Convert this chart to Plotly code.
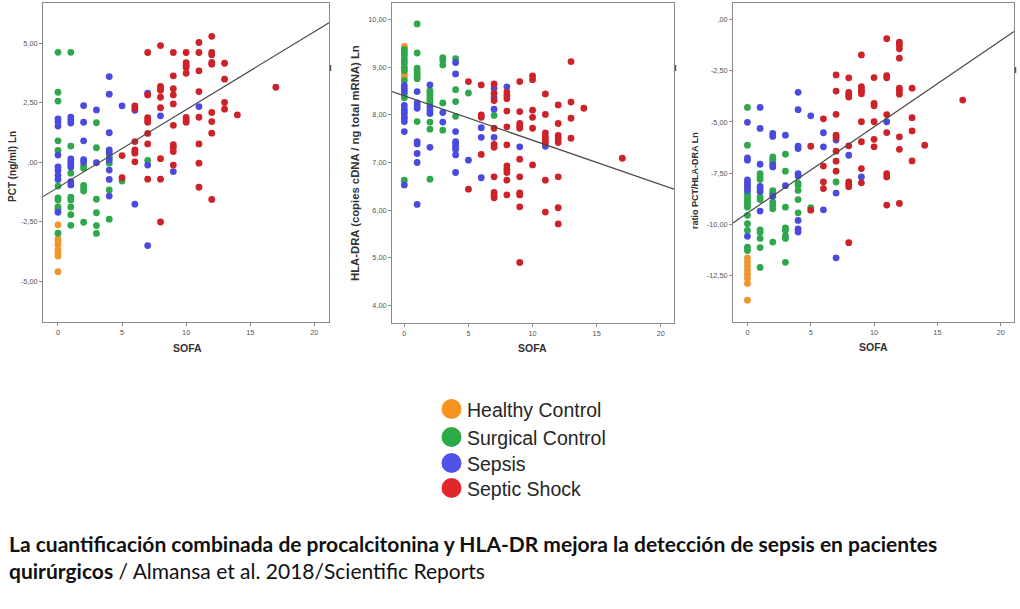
import plotly.graph_objects as go

W, H = 1020, 609

# ---------------- data ----------------
groups = ["Healthy Control", "Surgical Control", "Sepsis", "Septic Shock"]

# Panel 1: PCT (ng/ml) Ln  -- values grouped by SOFA score
pct_healthy = {0: [-2.63, -3.22, -3.33, -3.47, -3.68, -3.82, -3.94, -4.60]}
pct_surgical = {
    0: [4.62, 2.94, 2.57, 0.90, 0.50, -1.00, -1.50, -1.59, -1.88, -1.98, -2.98],
    1: [4.62, 0.68, -0.46, -1.47, -1.58, -1.88, -2.20, -2.65],
    2: [-0.14, -0.25, -0.97, -1.09, -1.21, -2.52],
    3: [1.66, 0.61, -1.55, -2.12, -2.66, -2.99],
    4: [0.27, 0.16, -0.04, -1.16, -2.39],
    5: [-0.79],
    7: [0.08],
}
pct_sepsis = {
    0: [1.82, 1.70, 1.52, 0.30, -0.20, -0.35, -0.55, -0.72, -2.10],
    1: [1.90, 1.78, 1.65, 0.14, 0.03, -0.09, -0.20, -0.81, -0.95],
    2: [2.38, 1.68, 0.90, 0.11, 0.01],
    3: [2.20, -0.02],
    4: [3.60, 2.86, 1.24, 0.52, 0.40, 0.10, -0.33, -0.72, -1.42],
    5: [2.37],
    6: [2.18, 0.45, -1.76],
    7: [2.90, -0.12, -3.50],
    8: [1.95],
    9: [-0.39],
    11: [2.34],
}
pct_shock = {
    5: [0.28, -0.65],
    6: [2.37, 2.27, 0.87, 0.52, 0.38, 0.02],
    7: [4.61, 2.83, 1.87, 1.78, 1.68, 1.21, 0.77, -0.71],
    8: [4.90, 3.19, 3.10, 3.02, 2.73, 2.29, 0.15, -0.71, -2.51],
    9: [4.61, 3.63, 3.09, 2.83, 2.45, 1.55, 0.74, 0.62, 0.45, -0.12],
    10: [4.61, 4.18, 4.07, 3.98, 3.74, 1.88, 1.78, 1.68],
    11: [5.03, 4.61, 3.84, 2.97, 1.89, 0.77, -0.04, -1.05],
    12: [5.29, 4.61, 4.52, 4.19, 4.12, 2.09, 1.71, 1.22, -1.56],
    13: [4.16, 3.49, 2.51, 2.23],
    14: [1.99],
    17: [3.15],
}
pct_fit = {"intercept": -1.06, "slope": 0.327}

# Panel 2: HLA-DRA (copies cDNA / ng total mRNA) Ln
hla_healthy = {0: [9.44, 9.40, 9.22, 9.12, 8.98, 8.90, 8.84, 8.78]}
hla_surgical = {
    0: [9.37, 9.32, 9.27, 9.16, 9.08, 9.00, 8.93, 8.72, 8.43, 8.36, 8.07, 7.96, 6.63],
    1: [9.91, 9.30, 8.98, 8.92, 8.87, 8.81, 8.76, 7.86],
    2: [8.51, 8.46, 8.41, 8.35, 8.30, 8.25, 7.85, 7.70, 6.65],
    3: [9.20, 9.15, 9.05, 8.25, 7.68],
    4: [9.18, 8.53, 8.28, 7.97],
    5: [8.46],
    7: [7.99],
}
hla_sepsis = {
    0: [8.62, 8.55, 8.49, 8.20, 8.12, 8.03, 7.93, 7.86, 7.65, 6.53],
    1: [8.49, 8.25, 8.19, 8.14, 7.44, 7.39, 7.19, 7.00, 6.12],
    2: [8.63, 8.17, 8.10, 8.03, 7.32],
    3: [8.05, 7.85],
    4: [9.10, 8.86, 7.65, 7.44, 7.39, 7.33, 7.28, 7.16, 6.79],
    5: [7.05],
    6: [7.73, 7.53, 6.68],
    7: [8.56, 8.36, 8.12, 7.53],
    8: [8.59],
    9: [7.33],
    11: [7.34],
}
hla_shock = {
    5: [8.70, 6.44],
    6: [8.63, 8.00, 7.95, 7.17],
    7: [8.65, 8.45, 8.30, 7.72, 7.38, 7.32, 6.70, 6.37, 6.31, 6.26],
    8: [8.48, 8.41, 8.34, 8.08, 7.75, 7.37, 6.93, 6.86, 6.79, 6.63, 6.32],
    9: [8.70, 8.07, 7.82, 7.77, 7.72, 7.07, 6.70, 6.36, 6.32, 6.07, 4.90],
    10: [8.82, 8.74, 8.10, 7.95, 7.72, 6.95],
    11: [8.44, 8.01, 7.62, 7.54, 7.47, 7.41, 6.63, 5.96],
    12: [8.21, 7.82, 7.57, 7.50, 7.42, 6.70, 6.05, 5.71],
    13: [9.12, 8.27, 7.93, 7.51],
    14: [8.14],
    17: [7.09],
}
hla_fit = {"intercept": 8.40, "slope": -0.0932}

# Panel 3: ratio PCT/HLA-DRA Ln
ratio_healthy = {0: [-11.65, -11.85, -12.05, -12.25, -12.45, -12.65, -12.90, -13.72]}
ratio_surgical = {
    0: [-4.29, -6.14, -8.50, -8.63, -8.77, -8.90, -9.03, -9.17, -9.57, -9.98, -10.31, -11.13, -11.29],
    1: [-7.53, -7.67, -7.82, -8.67, -8.80, -10.28, -10.40, -10.70, -11.15, -12.12],
    2: [-6.71, -6.83, -6.95, -8.36, -8.50, -8.92, -9.08, -9.25, -10.88],
    3: [-6.58, -7.41, -9.17, -10.18, -10.30, -10.58, -10.70, -11.87],
    4: [-8.00, -8.10, -8.35, -8.80, -9.45],
    5: [-9.20],
    7: [-7.94],
}
ratio_sepsis = {
    0: [-5.02, -6.76, -6.87, -7.84, -7.97, -8.10, -8.22, -8.35, -10.60],
    1: [-4.29, -5.32, -7.07, -8.15, -8.27, -8.40, -9.36],
    2: [-5.56, -5.71, -7.10, -7.20, -8.64],
    3: [-5.65, -8.12],
    4: [-3.55, -4.40, -6.18, -6.30, -7.53, -7.65, -9.82, -10.24, -10.39],
    5: [-4.70],
    6: [-5.53, -6.22, -9.30],
    7: [-5.89, -8.48, -11.65],
    8: [-6.63],
    9: [-7.69],
    11: [-4.99],
}
ratio_shock = {
    5: [-6.19, -9.32],
    6: [-4.85, -7.16, -7.94, -8.26],
    7: [-2.70, -3.49, -4.63, -5.65, -5.76, -6.43, -6.92, -7.41],
    8: [-2.84, -3.56, -3.68, -3.78, -6.17, -7.94, -8.05, -8.17, -10.91],
    9: [-1.72, -3.27, -3.40, -3.50, -3.62, -4.99, -5.97, -7.28, -7.98],
    10: [-2.83, -4.09, -4.21, -4.99, -5.85, -6.22],
    11: [-0.93, -2.74, -2.84, -4.64, -5.52, -7.53, -7.69, -9.07],
    12: [-1.10, -1.23, -1.42, -1.88, -3.35, -3.48, -3.64, -5.73, -6.34, -8.99],
    13: [-3.35, -4.79, -5.44, -6.91],
    14: [-6.14],
    17: [-3.93],
}
ratio_fit = {"intercept": -9.46, "slope": 0.422}

sofa_ticks = [0, 5, 10, 15, 20]
pct_ticks = [-5, -2.5, 0, 2.5, 5]
pct_ticktext = ["-5,00", "-2,50", ",00", "2,50", "5,00"]
hla_ticks = [4, 5, 6, 7, 8, 9, 10]
hla_ticktext = ["4,00", "5,00", "6,00", "7,00", "8,00", "9,00", "10,00"]
ratio_ticks = [-12.5, -10, -7.5, -5, -2.5, 0]
ratio_ticktext = ["-12,50", "-10,00", "-7,50", "-5,00", "-2,50", ",00"]

y_titles = ["PCT (ng/ml) Ln", "HLA-DRA (copies cDNA / ng total mRNA) Ln", "ratio PCT/HLA-DRA Ln"]
x_title = "SOFA"
caption_bold = "La cuantificación combinada de procalcitonina y HLA-DR mejora la detección de sepsis en pacientes"
caption_bold2 = "quirúrgicos"
caption_rest = " / Almansa et al. 2018/Scientific Reports"

# ---------------- styling / layout ----------------
marker_colors = ["#f0952c", "#2ea84b", "#4a4ade", "#cc2228"]
legend_colors = ["#f7931e", "#2bab46", "#5052ea", "#e3262c"]

panels = [
    dict(data=[pct_healthy, pct_surgical, pct_sepsis, pct_shock], fit=pct_fit,
         px=(43, 329), py=(3, 322), xr=(-1.17, 21.15), yr=(-6.71, 6.69),
         yt=(pct_ticks, pct_ticktext), title_pos=(12, 167), title_size=10,
         xt_pos=(187, 348), side_mark=68),
    dict(data=[hla_healthy, hla_surgical, hla_sepsis, hla_shock], fit=hla_fit,
         px=(392, 674), py=(3, 323), xr=(-0.96, 21.03), yr=(3.63, 10.35),
         yt=(hla_ticks, hla_ticktext), title_pos=(355, 163), title_size=11.3,
         xt_pos=(532, 348), side_mark=68),
    dict(data=[ratio_healthy, ratio_surgical, ratio_sepsis, ratio_shock], fit=ratio_fit,
         px=(733, 1014), py=(3, 322), xr=(-1.14, 21.05), yr=(-14.79, 0.82),
         yt=(ratio_ticks, ratio_ticktext), title_pos=(695, 181), title_size=9,
         xt_pos=(873, 347), side_mark=70),
]


def flatten(d):
    xs, ys = [], []
    for k, vals in d.items():
        for v in vals:
            xs.append(k)
            ys.append(v)
    return xs, ys


def px2x(p):
    return p / W


def px2y(p):
    return 1 - p / H


fig = go.Figure()
annotations = []
shapes = []
axis_font = dict(family="Liberation Sans, Arial, sans-serif", size=7.3, color="#555555")

for i, p in enumerate(panels):
    n = "" if i == 0 else str(i + 1)
    xa, ya = "x" + n, "y" + n
    for g, d in enumerate(p["data"]):
        xs, ys = flatten(d)
        fig.add_trace(go.Scatter(
            x=xs, y=ys, mode="markers", xaxis=xa, yaxis=ya, showlegend=False,
            name=groups[g], marker=dict(color=marker_colors[g], size=6.8, line=dict(width=0)),
        ))
    fx = list(p["xr"])
    fy = [p["fit"]["intercept"] + p["fit"]["slope"] * v for v in fx]
    fig.add_trace(go.Scatter(x=fx, y=fy, mode="lines", xaxis=xa, yaxis=ya, showlegend=False,
                             line=dict(color="#4a4a4a", width=1.2), hoverinfo="skip"))
    common = dict(showline=True, mirror=True, linecolor="#8a8a8a", linewidth=1,
                  ticks="outside", ticklen=3, tickcolor="#8a8a8a", tickwidth=1,
                  showgrid=False, zeroline=False, tickfont=axis_font, automargin=False)
    fig.update_layout(**{
        ("xaxis" + n): dict(domain=[px2x(p["px"][0]), px2x(p["px"][1])], range=list(p["xr"]),
                            tickvals=sofa_ticks, anchor=ya, **common),
        ("yaxis" + n): dict(domain=[px2y(p["py"][1]), px2y(p["py"][0])], range=list(p["yr"]),
                            tickvals=p["yt"][0], ticktext=p["yt"][1], anchor=xa, **common),
    })
    # small mark just outside the right frame edge
    shapes.append(dict(type="line", xref="paper", yref="paper",
                       x0=px2x(p["px"][1] + 1.5), x1=px2x(p["px"][1] + 1.5),
                       y0=px2y(p["side_mark"] - 3), y1=px2y(p["side_mark"] + 3),
                       line=dict(color="#555555", width=1.5)))
    annotations.append(dict(x=px2x(p["title_pos"][0]), y=px2y(p["title_pos"][1]), xref="paper", yref="paper",
                            text="<b>" + y_titles[i] + "</b>", textangle=-90, showarrow=False,
                            xanchor="center", yanchor="middle",
                            font=dict(family="Liberation Sans, Arial, sans-serif", size=p["title_size"], color="#333333")))
    annotations.append(dict(x=px2x(p["xt_pos"][0]), y=px2y(p["xt_pos"][1]), xref="paper", yref="paper",
                            text="<b>" + x_title + "</b>", showarrow=False, xanchor="center", yanchor="middle",
                            font=dict(family="Liberation Sans, Arial, sans-serif", size=10.5, color="#333333")))

# legend drawn as circles + labels
legend_cx = 451.5
legend_rows = [409, 437, 463, 488]
legend_r = 10
for g, cy in enumerate(legend_rows):
    shapes.append(dict(type="circle", xref="paper", yref="paper",
                       x0=px2x(legend_cx - legend_r), x1=px2x(legend_cx + legend_r),
                       y0=px2y(cy + legend_r), y1=px2y(cy - legend_r),
                       fillcolor=legend_colors[g], line=dict(width=0)))
    annotations.append(dict(x=px2x(465), y=px2y(cy + 1), xref="paper", yref="paper", text=groups[g],
                            showarrow=False, xanchor="left", yanchor="middle",
                            font=dict(family="Liberation Sans, Arial, sans-serif", size=19.5, color="#262626")))

cap_font = dict(family="Lato, Liberation Sans, sans-serif", size=21, color="#111111")
annotations.append(dict(x=px2x(7), y=px2y(543), xref="paper", yref="paper",
                        text="<b>" + caption_bold + "</b>", showarrow=False,
                        xanchor="left", yanchor="middle", font=cap_font))
annotations.append(dict(x=px2x(7), y=px2y(570), xref="paper", yref="paper",
                        text="<b>" + caption_bold2 + "</b>" + caption_rest, showarrow=False,
                        xanchor="left", yanchor="middle", font=cap_font))

fig.update_layout(width=W, height=H, margin=dict(l=0, r=0, t=0, b=0),
                  paper_bgcolor="white", plot_bgcolor="white",
                  annotations=annotations, shapes=shapes, showlegend=False)

fig.write_html("out.html")
